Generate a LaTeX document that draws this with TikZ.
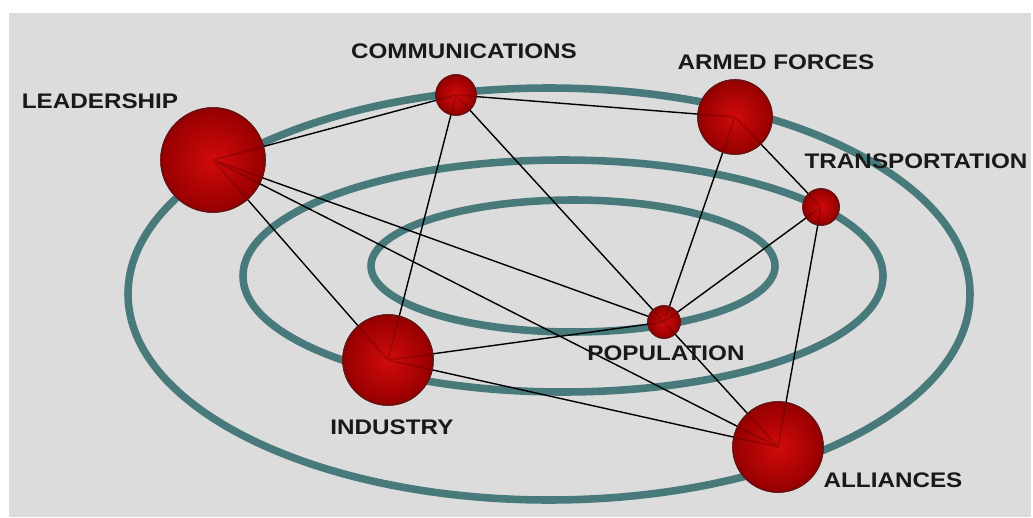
\documentclass[tikz,border=0pt]{standalone}
\usepackage{fontspec}
\newfontfamily\lblfont[FakeStretch=1.15]{Liberation Sans}
\definecolor{ringcol}{RGB}{72,122,124}
\definecolor{bgcol}{RGB}{220,220,220}
\definecolor{ballin}{RGB}{210,10,10}
\definecolor{ballout}{RGB}{150,0,0}
\definecolor{ballrim}{RGB}{110,15,15}
\tikzset{
  ring/.style={draw=ringcol, line width=4.3pt},
  ball/.style={circle, inner sep=0pt, minimum size=#1, inner color=ballin, outer color=ballout, draw=ballrim, line width=0.9pt},
  link/.style={black, line width=0.8pt},
  lbl/.style={font=\lblfont\bfseries\fontsize{12}{14}\selectfont, text=black!90, inner sep=0pt},
}
\begin{document}
\begin{tikzpicture}[x=0.02cm, y=-0.02cm]
  \useasboundingbox (0,0) rectangle (1033,517);
  \fill[white] (0,0) rectangle (1033,517);
  \fill[bgcol] (9,13) rectangle (1031,517);
  % the three rings
  \draw[ring] (549,294) ellipse [x radius=421, y radius=206];
  \draw[ring] (563,276) ellipse [x radius=320, y radius=116];
  \draw[ring] (573,266) ellipse [x radius=202, y radius=66];
  % spheres
  \foreach \n/\x/\y/\d in {lead/213/160/2.08cm, comm/456/95/0.8cm, armed/735/117/1.48cm,
      trans/821/207/0.72cm, pop/664/322/0.64cm, ind/388/360/1.8cm, alli/778/447/1.8cm}
    \node[ball=\d] (\n) at (\x,\y) {};
  % links
  \foreach \a/\b in {lead/comm, lead/ind, lead/pop, lead/alli, comm/armed, comm/ind, comm/pop,
      armed/trans, armed/pop, trans/pop, trans/alli, pop/ind, pop/alli, ind/alli}
    \draw[link] (\a.center) -- (\b.center);
  \foreach \n/\d in {lead/2.08cm, comm/0.8cm, armed/1.48cm, trans/0.72cm, pop/0.64cm, ind/1.8cm, alli/1.8cm}
    \node[ball=\d, fill opacity=0.8] at (\n) {};
  % labels
  \node[lbl] (leadtxt) at (100,101) {LEADERSHIP};
  \node[lbl] (commtxt) at (464,51) {COMMUNICATIONS};
  \node[lbl] (armedtxt) at (776,62) {ARMED FORCES};
  \node[lbl] (transtxt) at (916,161) {TRANSPORTATION};
  \node[lbl] (poptxt) at (666,353) {POPULATION};
  \node[lbl] (indtxt) at (392,427) {INDUSTRY};
  \node[lbl] (allitxt) at (893,480) {ALLIANCES};
\end{tikzpicture}
\end{document}
